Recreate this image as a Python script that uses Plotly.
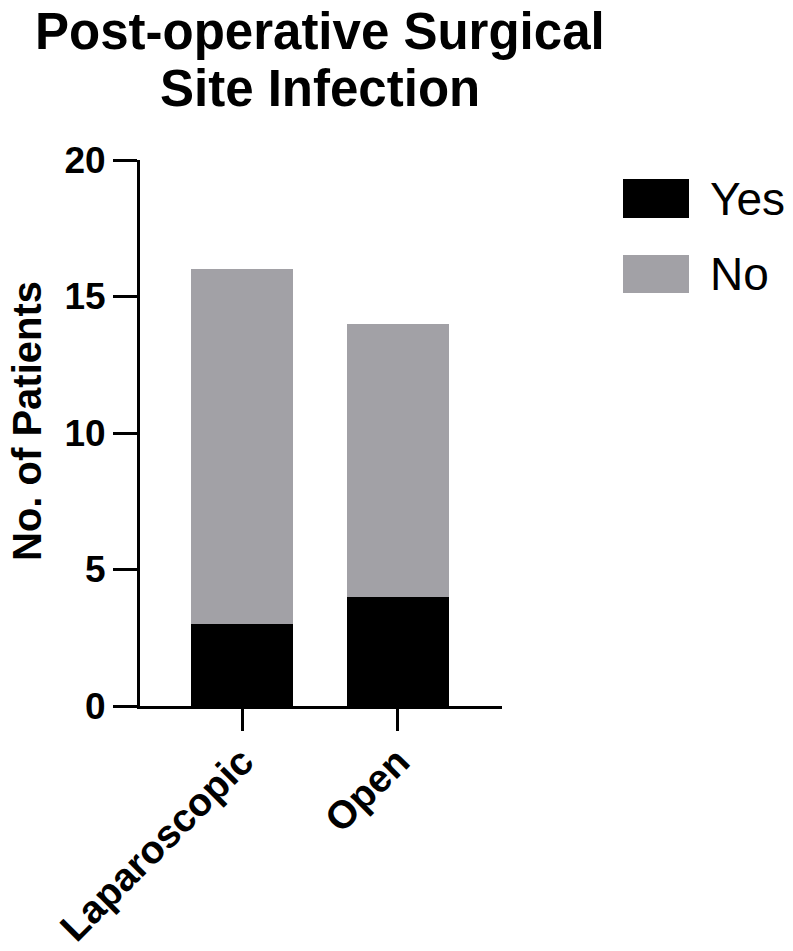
import plotly.graph_objects as go

categories = ["Laparoscopic", "Open"]
yes_values = [3, 4]
no_values = [13, 10]
series_names = ["Yes", "No"]
y_ticks = [0, 5, 10, 15, 20]
title_lines = ["Post-operative Surgical", "Site Infection"]
y_title = "No. of Patients"

BLACK = "#000000"
GRAY = "#a2a1a6"
FONT = "Liberation Sans, Arial, sans-serif"

W, H = 793, 951
# plot area in page pixels: x 140..502, y 160..706
L, R, T, B = 140, 793 - 502, 160, 951 - 706
pw, ph = 502 - 140, 706 - 160

def px_x(p):
    return (p - 140) / pw

def px_y(p):
    return (706 - p) / ph

fig = go.Figure()
xs = list(range(len(categories)))
fig.add_trace(go.Bar(x=xs, y=yes_values, name=series_names[0], marker=dict(color=BLACK, line=dict(width=0)),
                     width=0.66, showlegend=False))
fig.add_trace(go.Bar(x=xs, y=no_values, name=series_names[1], marker=dict(color=GRAY, line=dict(width=0)),
                     width=0.66, showlegend=False))

fig.update_layout(
    barmode="stack",
    width=W, height=H,
    margin=dict(l=L, r=R, t=T, b=B, autoexpand=False),
    paper_bgcolor="white", plot_bgcolor="white",
    font=dict(family=FONT, color="black"),
)

for i, line in enumerate(title_lines):
    fig.add_annotation(xref="paper", yref="paper", x=px_x(320), y=px_y(2 + 57 * i),
                       xanchor="center", yanchor="top", borderpad=0,
                       text=f"<b>{line}</b>", showarrow=False,
                       font=dict(size=51, family=FONT, color="black"))

fig.add_annotation(xref="paper", yref="paper", x=px_x(27), y=px_y(421),
                   xanchor="center", yanchor="middle", textangle=-90, borderpad=0,
                   text=f"<b>{y_title}</b>", showarrow=False,
                   font=dict(size=40, family=FONT, color="black"))

fig.update_xaxes(
    range=[-0.654, 1.667], tickvals=xs, ticktext=[f"<b>{c}</b>" for c in categories],
    tickangle=-45, ticks="outside", ticklen=22, tickwidth=3, tickcolor="black",
    showline=True, linewidth=3, linecolor="black", showgrid=False, zeroline=False,
    tickfont=dict(size=39, family=FONT, color="black"), ticklabelstandoff=-8,
)
fig.update_yaxes(
    range=[0, 20], tickvals=y_ticks, ticktext=[f"<b>{v}</b>" for v in y_ticks],
    ticks="outside", ticklen=24, tickwidth=3, tickcolor="black",
    showline=True, linewidth=3, linecolor="black", showgrid=False, zeroline=False,
    tickfont=dict(size=37, family=FONT, color="black"),
)

legend_colors = [BLACK, GRAY]
legend_rows = [(179, 218), (255, 293)]
for name, col, (top, bot) in zip(series_names, legend_colors, legend_rows):
    fig.add_shape(type="rect", xref="paper", yref="paper",
                  x0=px_x(623), x1=px_x(689), y0=px_y(bot), y1=px_y(top),
                  fillcolor=col, line=dict(width=0))
    fig.add_annotation(xref="paper", yref="paper", x=px_x(708), y=px_y((top + bot) / 2),
                       text=name, showarrow=False, xanchor="left", yanchor="middle",
                       font=dict(size=46, family=FONT, color="black"))

fig.write_html("out.html", config={"displayModeBar": False},
               post_script="document.body.style.margin='0';")
